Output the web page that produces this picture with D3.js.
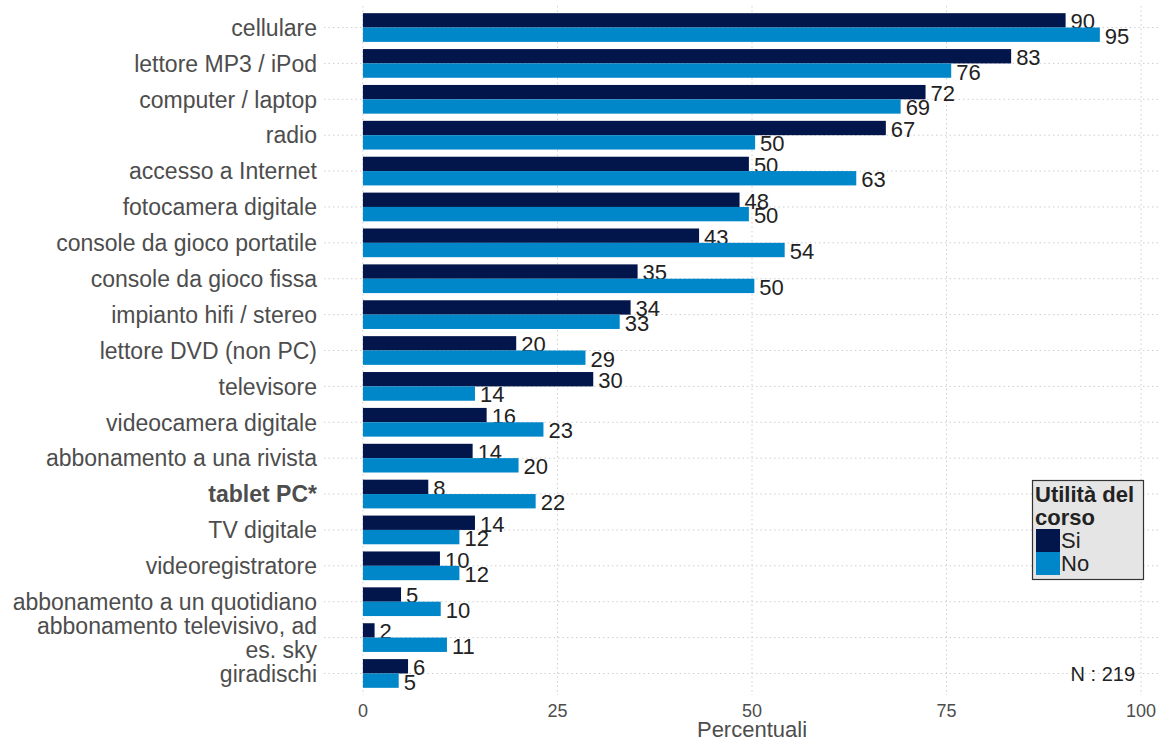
<!DOCTYPE html>
<html><head><meta charset="utf-8">
<script src="https://cdn.jsdelivr.net/npm/d3@7/dist/d3.min.js"></script>
<style>body{margin:0;background:#fff;} svg{display:block;font-family:"Liberation Sans",Arial,sans-serif;}</style>
</head><body><svg id="c" width="1161" height="740"></svg>
<script>
const categories = ["cellulare","lettore MP3 / iPod","computer / laptop","radio","accesso a Internet","fotocamera digitale","console da gioco portatile","console da gioco fissa","impianto hifi / stereo","lettore DVD (non PC)","televisore","videocamera digitale","abbonamento a una rivista","tablet PC*","TV digitale","videoregistratore","abbonamento a un quotidiano","abbonamento televisivo, ad\nes. sky","giradischi"];
const valuesSi = [90.3,83.3,72.3,67.2,49.6,48.4,43.2,35.3,34.4,19.7,29.6,15.9,14.1,8.4,14.4,9.9,4.9,1.5,5.8];
const valuesNo = [94.7,75.6,69.1,50.4,63.4,49.6,54.2,50.3,33.0,28.6,14.4,23.2,20.0,22.2,12.4,12.4,10.0,10.8,4.6];
const seriesNames = ["Si","No"];
const seriesColors = ["#02164b","#0087c9"];
const xTicks = [0,25,50,75,100];
const boldCategories = ["tablet PC*"];

const svg = d3.select("#c");
const panel = {left:324, right:1180, top:6, bottom:695};
const x = d3.scaleLinear().domain([-5,105]).range([panel.left,panel.right]);
const y = d3.scalePoint().domain(categories).range([panel.top,panel.bottom]).padding(0.6);
const step = y.step();
const inner = d3.scaleBand().domain(seriesNames).range([-0.4*step,0.4*step]);

const grid = svg.append("g");
grid.selectAll("line.h").data(categories).join("line")
  .attr("x1",panel.left).attr("x2",panel.right)
  .attr("y1",d=>y(d)).attr("y2",d=>y(d))
  .attr("stroke","#cfcfcf").attr("stroke-width",1).attr("stroke-dasharray","1.5,3");
grid.selectAll("line.v").data(xTicks).join("line")
  .attr("x1",d=>x(d)).attr("x2",d=>x(d))
  .attr("y1",panel.top).attr("y2",panel.bottom)
  .attr("stroke","#cfcfcf").attr("stroke-width",1).attr("stroke-dasharray","1.5,3");

const rows = categories.map((c,i)=>({c, vals:[valuesSi[i],valuesNo[i]]}));
const g = svg.append("g");
rows.forEach(r=>{
  r.vals.forEach((v,j)=>{
    const s = seriesNames[j];
    const yy = y(r.c)+inner(s);
    g.append("rect").attr("x",x(0)).attr("y",yy).attr("width",x(v)-x(0)).attr("height",inner.bandwidth())
      .attr("fill",seriesColors[j]);
    g.append("text").attr("x",x(v)+5).attr("y",yy+inner.bandwidth()/2+1).attr("dy","0.36em")
      .attr("font-size",22).attr("fill","#222").text(Math.round(v));
  });
});

// y axis labels
const ylab = svg.append("g");
categories.forEach(c=>{
  const lines = c.split("\n");
  const t = ylab.append("text").attr("x",317).attr("text-anchor","end")
    .attr("font-size",23).attr("fill","#4d4d4d")
    .attr("font-weight", boldCategories.includes(c)?"bold":"normal");
  const lh = 24.5;
  lines.forEach((l,k)=>{
    t.append("tspan").attr("x",317).attr("y", y(c) + (k-(lines.length-1)/2)*lh).attr("dy","0.36em").text(l);
  });
});

// x axis
const xa = svg.append("g");
xa.selectAll("text").data(xTicks).join("text")
  .attr("x",d=>x(d)).attr("y",711).attr("dy","0.36em").attr("text-anchor","middle")
  .attr("font-size",18).attr("fill","#4d4d4d").text(d=>d);
svg.append("text").attr("x",x(50)).attr("y",729.5).attr("dy","0.36em").attr("text-anchor","middle")
  .attr("font-size",22).attr("fill","#4d4d4d").text("Percentuali");

// legend
const lg = svg.append("g");
lg.append("rect").attr("x",1032.5).attr("y",480.5).attr("width",111).attr("height",99)
  .attr("fill","#e5e5e5").attr("stroke","#333").attr("stroke-width",1.2);
lg.append("text").attr("x",1035).attr("y",494).attr("dy","0.36em").attr("font-size",22).attr("font-weight","bold").attr("fill","#222").text("Utilità del");
lg.append("text").attr("x",1035).attr("y",517).attr("dy","0.36em").attr("font-size",22).attr("font-weight","bold").attr("fill","#222").text("corso");
seriesNames.forEach((s,j)=>{
  lg.append("rect").attr("x",1036).attr("y",529+j*23).attr("width",24).attr("height",23).attr("fill",seriesColors[j]);
  lg.append("text").attr("x",1061).attr("y",540.5+j*23).attr("dy","0.36em").attr("font-size",22).attr("fill","#222").text(s);
});

svg.append("text").attr("x",1135).attr("y",674).attr("dy","0.36em").attr("text-anchor","end")
  .attr("font-size",20).attr("fill","#222").text("N : 219");
</script></body></html>
